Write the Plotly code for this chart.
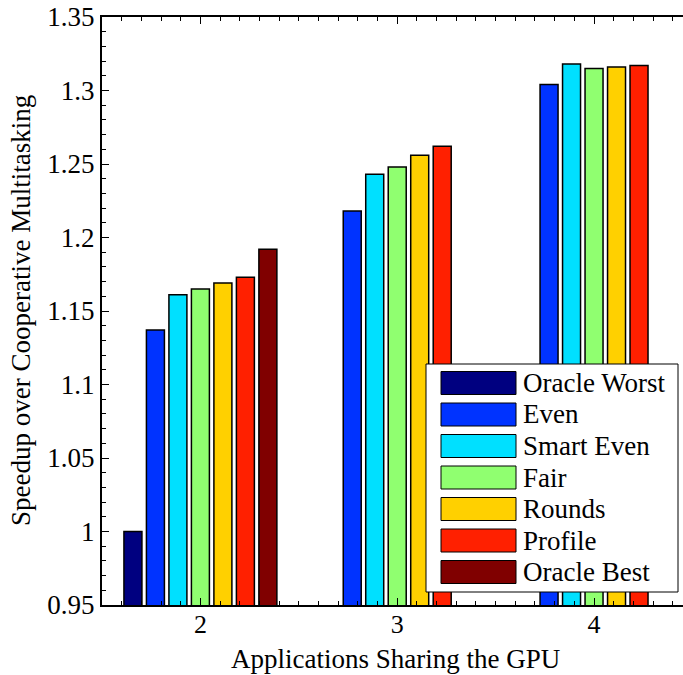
import plotly.graph_objects as go

# Number of applications sharing the GPU
apps = [2, 3, 4]

# Speedup over cooperative multitasking, one list per policy
oracle_worst = [1.000, None, None]
even = [1.137, 1.218, 1.304]
smart_even = [1.161, 1.243, 1.318]
fair = [1.165, 1.248, 1.315]
rounds = [1.169, 1.256, 1.316]
profile = [1.173, 1.262, 1.317]
oracle_best = [1.192, None, None]

series_names = ["Oracle Worst", "Even", "Smart Even", "Fair", "Rounds", "Profile", "Oracle Best"]
series_values = [oracle_worst, even, smart_even, fair, rounds, profile, oracle_best]
series_colors = ["#000080", "#0033ff", "#00e0ff", "#90ff70", "#ffd000", "#ff2000", "#800000"]

y_ticks = [0.95, 1.0, 1.05, 1.1, 1.15, 1.2, 1.25, 1.3, 1.35]
y_tick_text = ["0.95", "1", "1.05", "1.1", "1.15", "1.2", "1.25", "1.3", "1.35"]

W, H = 683, 675
ML, MR, MT, MB = 102, 0, 17, 70
PW, PH = W - ML - MR, H - MT - MB

FONT = "Liberation Serif"
FS = 27


def px_x(px):
    return (px - ML) / PW


def px_y(py):
    return (H - MB - py) / PH


fig = go.Figure()
for name, vals, col in zip(series_names, series_values, series_colors):
    fig.add_trace(go.Bar(
        x=apps, y=vals, name=name,
        marker=dict(color=col, line=dict(color="black", width=1.5)),
        showlegend=False,
    ))

# Legend drawn as boxed swatches with labels
shapes = [dict(type="rect", xref="paper", yref="paper",
               x0=px_x(426), x1=px_x(678), y0=px_y(592), y1=px_y(364),
               line=dict(color="black", width=1), fillcolor="white", layer="above")]
annotations = []
for i, (name, col) in enumerate(zip(series_names, series_colors)):
    cy = 383 + 31.5 * i
    shapes.append(dict(type="rect", xref="paper", yref="paper",
                       x0=px_x(441), x1=px_x(516), y0=px_y(cy + 11.5), y1=px_y(cy - 11.5),
                       line=dict(color="black", width=1), fillcolor=col, layer="above"))
    annotations.append(dict(xref="paper", yref="paper", x=px_x(521), y=px_y(cy),
                            xanchor="left", yanchor="middle", text=name, showarrow=False,
                            font=dict(family=FONT, size=FS, color="black")))

annotations.append(dict(xref="paper", yref="paper", x=px_x(21), y=0.5,
                        xanchor="center", yanchor="middle", textangle=-90,
                        text="Speedup over Cooperative Multitasking", showarrow=False,
                        font=dict(family=FONT, size=FS, color="black")))
annotations.append(dict(xref="paper", yref="paper", x=px_x(395), y=px_y(659),
                        xanchor="center", yanchor="middle",
                        text="Applications Sharing the GPU", showarrow=False,
                        font=dict(family=FONT, size=FS, color="black")))

fig.update_layout(
    width=W, height=H,
    margin=dict(l=ML, r=MR, t=MT, b=MB),
    paper_bgcolor="white", plot_bgcolor="white",
    barmode="group", bargap=0.2, bargroupgap=0.2,
    font=dict(family=FONT, size=FS, color="black"),
    shapes=shapes, annotations=annotations,
    xaxis=dict(
        range=[1.5, 4.452], tickvals=apps, ticktext=[str(a) for a in apps],
        showline=True, linecolor="black", linewidth=2, mirror="allticks",
        ticks="inside", ticklen=7, tickwidth=1, tickcolor="black",
        minor=dict(dtick=0.1, tick0=1.5, ticks="inside", ticklen=4, tickwidth=1, tickcolor="black"),
        showgrid=False, zeroline=False, ticklabelstandoff=-5,
        tickfont=dict(family=FONT, size=26, color="black"),
    ),
    yaxis=dict(
        range=[0.95, 1.35], tickvals=y_ticks, ticktext=y_tick_text,
        showline=True, linecolor="black", linewidth=2, mirror=False,
        ticks="inside", ticklen=7, tickwidth=1, tickcolor="black",
        minor=dict(dtick=0.01, tick0=0.95, ticks="inside", ticklen=4, tickwidth=1, tickcolor="black"),
        showgrid=False, zeroline=False,
        tickfont=dict(family=FONT, size=FS, color="black"),
    ),
)

fig.write_html("out.html")
